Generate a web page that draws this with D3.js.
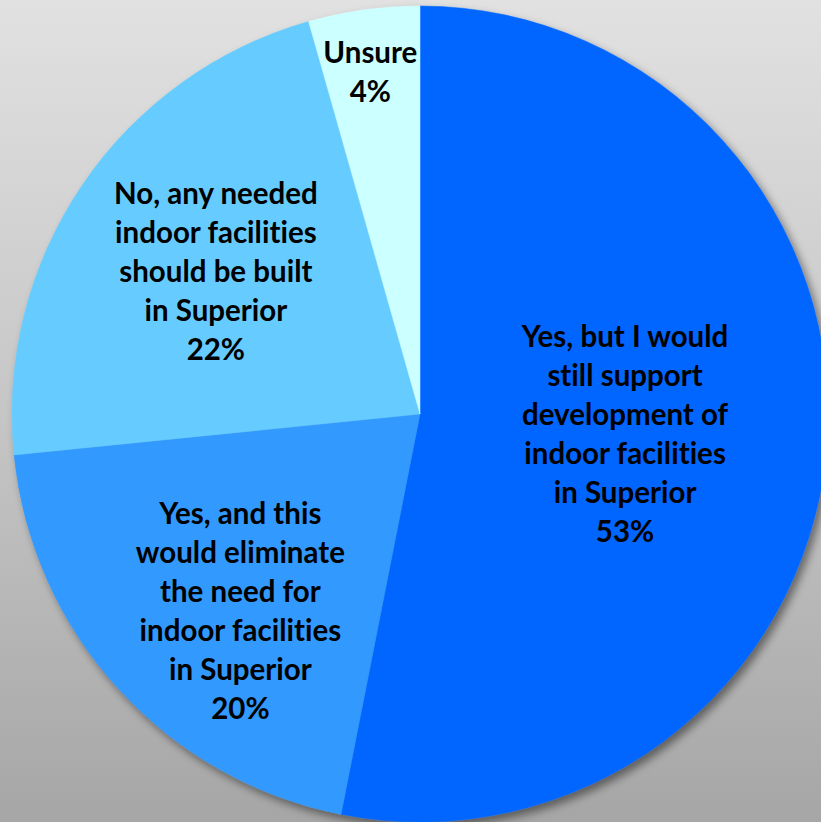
<!DOCTYPE html>
<html>
<head>
<meta charset="utf-8">
<script src="https://cdn.jsdelivr.net/npm/d3@7"></script>
<style>
  html, body { margin: 0; padding: 0; background: #fff; }
  svg { display: block; }
  text { font-variant-ligatures: none; font-feature-settings: "liga" 0, "clig" 0; }
</style>
</head>
<body>
<script>
// ---- data ----
const categories = [
  ["Yes, but I would", "still support", "development of", "indoor facilities", "in Superior"],
  ["Yes, and this", "would eliminate", "the need for", "indoor facilities", "in Superior"],
  ["No, any needed", "indoor facilities", "should be built", "in Superior"],
  ["Unsure"]
];
const values = [53.1, 20.3, 22.2, 4.4];
const percentLabels = ["53%", "20%", "22%", "4%"];
const colors = ["#0066ff", "#3399ff", "#66ccff", "#ccffff"];

// ---- layout ----
const W = 821, H = 822;
const cx = 420, cy = 414, R = 408;
const labelRadiusFrac = [0.505, 0.645, 0.605, 0.83];
const labelShift = [[0, 0], [15, 20], [0, -3], [-3, -6]];
const lineH = 39;
const fontSize = 29.5;

const svg = d3.select("body").append("svg")
  .attr("width", W).attr("height", H);

const defs = svg.append("defs");
const bg = defs.append("linearGradient").attr("id", "bg")
  .attr("x1", 0).attr("y1", 0).attr("x2", 0).attr("y2", 1);
bg.append("stop").attr("offset", "0%").attr("stop-color", "#e1e1e1");
bg.append("stop").attr("offset", "50%").attr("stop-color", "#c6c6c6");
bg.append("stop").attr("offset", "100%").attr("stop-color", "#a6a6a6");

const f = defs.append("filter").attr("id", "shadow")
  .attr("x", "-20%").attr("y", "-20%").attr("width", "140%").attr("height", "140%");
f.append("feDropShadow").attr("dx", 4).attr("dy", 5)
  .attr("stdDeviation", 4).attr("flood-color", "#000").attr("flood-opacity", 0.45);

svg.append("rect").attr("width", W).attr("height", H).attr("fill", "url(#bg)");

const pie = d3.pie().sort(null).value(d => d);
const arcs = pie(values);
const arc = d3.arc().innerRadius(0).outerRadius(R);

const g = svg.append("g").attr("transform", `translate(${cx},${cy})`);

g.append("g").attr("filter", "url(#shadow)")
  .selectAll("path").data(arcs).join("path")
  .attr("d", arc)
  .attr("fill", (d, i) => colors[i])
  .attr("stroke", (d, i) => colors[i])
  .attr("stroke-width", 0.5);

const labels = g.append("g")
  .attr("font-family", "Lato, 'Open Sans', sans-serif")
  .attr("font-weight", "bold")
  .attr("font-size", fontSize)
  .attr("fill", "#000")
  .attr("text-anchor", "middle");

arcs.forEach((d, i) => {
  const a = (d.startAngle + d.endAngle) / 2;
  const r = R * labelRadiusFrac[i];
  const x = Math.sin(a) * r + labelShift[i][0];
  const y = -Math.cos(a) * r + labelShift[i][1];
  const lines = categories[i].concat([percentLabels[i]]);
  const n = lines.length;
  const t = labels.append("text")
    .attr("transform", `translate(${x},${y})`);
  lines.forEach((ln, k) => {
    t.append("tspan")
      .attr("x", 0)
      .attr("y", (k - (n - 1) / 2) * lineH + 10)
      .text(ln);
  });
});
</script>
</body>
</html>
